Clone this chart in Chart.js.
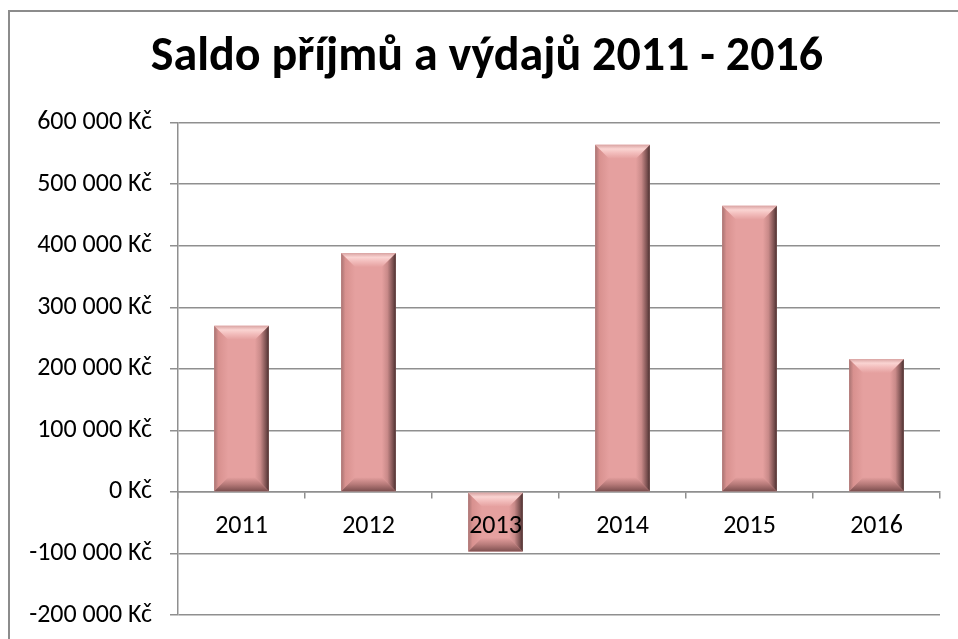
<!DOCTYPE html>
<html lang="cs">
<head>
<meta charset="utf-8">
<title>Saldo příjmů a výdajů</title>
<script src="https://cdn.jsdelivr.net/npm/chart.js@4.4.1/dist/chart.umd.min.js"></script>
<style>
    html, body { margin: 0; padding: 0; background: #fff; overflow: hidden; }
    #wrap { position: relative; width: 958px; height: 639px; overflow: hidden; }
    #frame { position: absolute; left: 8px; top: 10px; width: 1000px; height: 700px; border: 2px solid #8c8c8c; }
    #saldoChart { position: absolute; left: 0; top: 0; }
</style>
</head>
<body>
<div id="wrap">
    <div id="frame"></div>
    <canvas id="saldoChart" width="958" height="639"></canvas>
</div>
<script>
// Data
const chartTitle = 'Saldo příjmů a výdajů 2011 - 2016';
const years = ['2011', '2012', '2013', '2014', '2015', '2016'];
const saldo = [270000, 388000, -97000, 564000, 465000, 216000];
const yMin = -200000;
const yMax = 600000;
const yStep = 100000;

const faceColor = '#E5A09F';
const gridColor = '#8f8f8f';

Chart.defaults.font.family = 'Carlito, Lato, sans-serif';
Chart.defaults.color = '#000';

function formatKc(value) {
    const sign = value < 0 ? '-' : '';
    const digits = Math.abs(value).toString().replace(/\B(?=(\d{3})+(?!\d))/g, ' ');
    return sign + digits + ' Kč';
}

function poly(ctx, pts, fill) {
    ctx.beginPath();
    ctx.moveTo(pts[0][0], pts[0][1]);
    for (let i = 1; i < pts.length; i++) ctx.lineTo(pts[i][0], pts[i][1]);
    ctx.closePath();
    ctx.fillStyle = fill;
    ctx.fill();
}

// Excel-like bevel drawn over each bar element
const bevelPlugin = {
    id: 'bevel',
    afterLayout(chart) {
        // let the long negative tick labels reach past the left padding
        chart.scales.y.left = 0;
    },
    afterDatasetsDraw(chart) {
        const ctx = chart.ctx;
        const meta = chart.getDatasetMeta(0);
        ctx.save();
        meta.data.forEach(bar => {
            const p = bar.getProps(['x', 'y', 'base', 'width'], true);
            const L = p.x - p.width / 2, R = p.x + p.width / 2;
            const T = Math.min(p.y, p.base), B = Math.max(p.y, p.base);
            const b = Math.min(14, (B - T) / 2);

            // left side
            let g = ctx.createLinearGradient(L, 0, L + b, 0);
            g.addColorStop(0, '#a87372');
            g.addColorStop(0.3, '#d8918f');
            g.addColorStop(1, faceColor);
            poly(ctx, [[L, T], [L + b, T + b], [L + b, B - b], [L, B]], g);

            // right side
            g = ctx.createLinearGradient(R - b, 0, R, 0);
            g.addColorStop(0, faceColor);
            g.addColorStop(0.4, '#c98a89');
            g.addColorStop(0.8, '#7a5050');
            g.addColorStop(1, '#4a3030');
            poly(ctx, [[R, T], [R, B], [R - b, B - b], [R - b, T + b]], g);

            // top
            g = ctx.createLinearGradient(0, T, 0, T + b);
            g.addColorStop(0, '#d9a3a2');
            g.addColorStop(0.3, '#fad4d2');
            g.addColorStop(0.6, '#f2bcbb');
            g.addColorStop(1, faceColor);
            poly(ctx, [[L, T], [R, T], [R - b, T + b], [L + b, T + b]], g);

            // bottom
            g = ctx.createLinearGradient(0, B - b, 0, B);
            g.addColorStop(0, faceColor);
            g.addColorStop(0.5, '#b87b7a');
            g.addColorStop(1, '#7d4f4f');
            poly(ctx, [[L, B], [L + b, B - b], [R - b, B - b], [R, B]], g);
        });
        ctx.restore();
    }
};

const ctx = document.getElementById('saldoChart').getContext('2d');
new Chart(ctx, {
    type: 'bar',
    data: {
        labels: years,
        datasets: [{
            label: 'Saldo',
            data: saldo,
            backgroundColor: faceColor,
            borderWidth: 0,
            categoryPercentage: 1,
            barPercentage: 0.43
        }]
    },
    options: {
        responsive: false,
        animation: false,
        layout: { padding: { left: 34, right: 18, top: 0, bottom: 24 } },
        plugins: {
            legend: { display: false },
            tooltip: { enabled: false },
            title: {
                display: true,
                text: chartTitle,
                font: { size: 48, weight: 'bold' },
                color: '#000',
                padding: { top: 29, bottom: 36 }
            }
        },
        scales: {
            x: {
                position: { y: 0 },
                offset: true,
                grid: { display: true, drawOnChartArea: false, color: gridColor, lineWidth: 1.5, tickLength: 6 },
                border: { display: true, color: gridColor, width: 1.5 },
                ticks: { font: { size: 26 }, color: '#000', padding: 13, maxRotation: 0, z: 1 }
            },
            y: {
                min: yMin,
                max: yMax,
                afterFit: scale => {
                    scale.width = 144;
                    scale.paddingTop = 0;
                    scale.paddingBottom = 0;
                },
                grid: { color: gridColor, lineWidth: 1.5, tickLength: 8 },
                border: { display: true, color: gridColor, width: 1.5 },
                ticks: {
                    stepSize: yStep,
                    font: { size: 26 },
                    color: '#000',
                    padding: 18,
                    callback: value => formatKc(value)
                }
            }
        }
    },
    plugins: [bevelPlugin]
});
</script>
</body>
</html>
